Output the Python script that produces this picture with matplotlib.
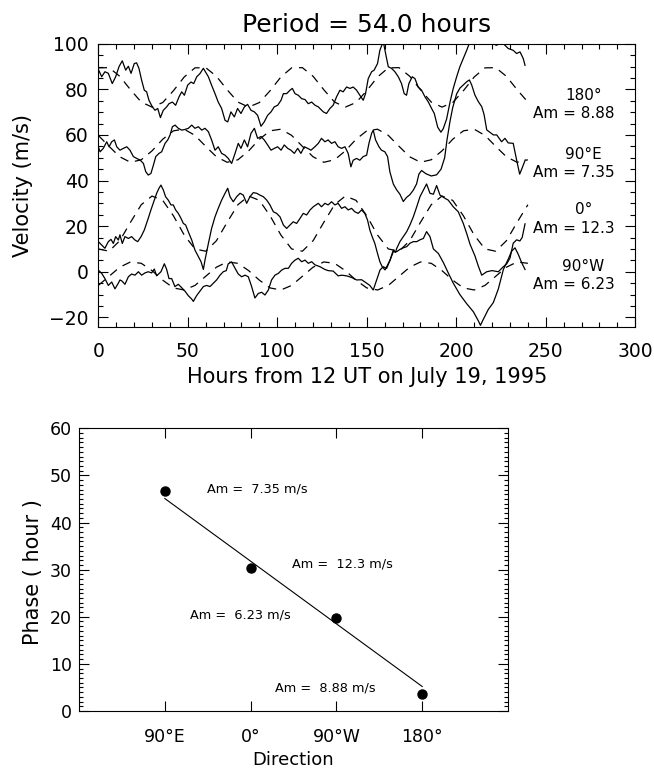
import matplotlib.pyplot as plt
from matplotlib.ticker import MultipleLocator

# ---------------------------------------------------------------
# top panel: wind velocity (m/s) against hours from 12 UT, 19 July 1995
# solid = observed, dashed = 54 h fitted wave, pairs are (hour, m/s)
# ---------------------------------------------------------------
obs_180 = [(0, 88.8), (1.9, 85.5), (3.7, 87.7), (5.6, 87.0), (7.8, 82.5), (9.7, 85.5),
           (11.6, 90.0), (13.4, 92.5), (15.3, 88.4), (16.8, 90.1), (18.3, 87.0), (20.1, 91.3),
           (21.4, 91.6), (22.7, 89.2), (24.2, 84.0), (25.7, 79.6), (27.0, 78.9), (28.3, 75.2),
           (30.2, 72.3), (31.7, 70.8), (33.2, 71.6), (34.7, 67.6), (36.3, 70.8), (38.2, 72.3),
           (39.5, 73.7), (41.4, 74.4), (43.2, 73.0), (45.1, 76.7), (46.6, 78.9), (48.1, 77.4),
           (49.9, 81.8), (51.8, 83.2), (53.3, 82.5), (55.0, 85.5), (56.8, 86.9), (58.7, 89.2),
           (61.5, 85.5), (63.3, 81.8), (65.2, 78.1), (67.0, 74.4), (68.9, 71.6), (70.8, 66.4),
           (72.3, 65.7), (74.1, 70.1), (76.0, 67.9), (77.8, 71.6), (79.7, 69.4), (81.6, 72.3),
           (83.4, 73.4), (85.3, 70.8), (87.2, 70.1), (89.0, 68.6), (90.9, 63.8), (92.7, 65.7),
           (94.6, 68.6), (96.5, 70.1), (98.3, 72.3), (100.2, 73.0), (102.1, 75.2), (103.4, 78.1),
           (105.2, 78.1), (107.1, 79.6), (108.4, 80.4), (109.9, 78.1), (111.7, 77.4), (113.6, 75.9),
           (115.5, 75.5), (117.3, 73.7), (119.2, 74.4), (121.1, 73.0), (122.9, 72.3), (125.7, 70.1),
           (127.5, 69.4), (129.4, 71.6), (131.2, 73.0), (133.1, 76.7), (135.0, 79.6), (136.8, 78.9),
           (138.7, 81.0), (140.6, 80.4), (142.4, 81.0), (144.3, 79.6), (146.1, 77.4), (148.0, 75.2),
           (149.3, 78.1), (150.8, 84.7), (152.7, 87.7), (154.1, 88.4), (156.0, 91.3), (157.3, 97.1),
           (159.2, 101.0), (160.5, 95.7), (162.0, 89.9), (163.8, 89.2), (165.7, 87.7), (167.6, 85.5),
           (169.4, 82.5), (170.9, 78.1), (172.2, 77.4), (173.5, 82.5), (175.4, 85.5), (176.9, 84.7),
           (178.7, 81.0), (180.6, 79.6), (182.5, 76.7), (184.4, 74.4), (186.2, 71.6), (187.7, 69.4),
           (189.6, 63.4), (191.4, 61.2), (192.7, 62.7), (194.6, 67.0), (196.5, 74.4), (198.3, 80.4),
           (200.2, 85.5), (202.0, 89.9), (203.9, 93.5), (205.8, 97.1), (207.6, 100.8), (210.0, 103.0),
           (214.0, 104.0), (217.0, 103.0), (219.7, 100.2), (222.5, 99.3), (225.3, 100.8), (229.0, 97.9),
           (231.8, 97.1), (233.7, 95.7), (235.6, 96.4), (237.4, 93.5), (238.4, 90.5)]

obs_90e = [(0, 54.8), (1.0, 52.6), (2.8, 54.1), (4.7, 57.0), (6.0, 54.8), (7.5, 57.0),
           (9.0, 57.8), (10.3, 54.8), (12.1, 53.3), (14.0, 54.1), (15.9, 54.8), (17.7, 53.3),
           (19.6, 50.5), (21.4, 49.7), (23.3, 49.0), (25.2, 47.5), (26.5, 43.9), (27.9, 42.4),
           (29.4, 43.1), (30.8, 46.8), (32.1, 50.5), (33.9, 51.9), (35.4, 52.6), (37.3, 56.3),
           (38.8, 57.8), (40.1, 60.0), (41.4, 63.6), (42.9, 64.3), (44.7, 62.9), (46.6, 62.1),
           (48.4, 62.4), (50.3, 62.9), (52.2, 64.3), (54.0, 62.9), (55.9, 63.6), (57.8, 62.1),
           (59.6, 62.9), (61.5, 61.4), (63.3, 57.8), (65.2, 53.3), (67.0, 54.8), (68.9, 51.9),
           (70.8, 51.1), (72.6, 49.7), (74.5, 47.5), (76.4, 51.9), (78.2, 56.3), (79.7, 54.1),
           (81.6, 57.8), (83.4, 54.8), (85.3, 60.7), (87.2, 62.9), (89.0, 58.5), (90.9, 59.3),
           (92.7, 57.8), (94.6, 55.6), (96.5, 53.3), (98.3, 54.1), (100.2, 54.8), (102.1, 53.3),
           (103.9, 55.6), (105.8, 54.1), (107.6, 53.3), (109.5, 51.9), (111.4, 54.1), (113.2, 51.9),
           (115.1, 54.8), (117.0, 54.1), (118.8, 53.3), (121.0, 54.8), (122.9, 56.3), (124.7, 58.5),
           (126.6, 57.0), (128.4, 57.8), (130.3, 56.3), (132.2, 57.0), (134.0, 54.8), (135.9, 54.1),
           (137.8, 54.8), (139.6, 51.9), (141.1, 46.0), (142.4, 48.9), (144.3, 49.7), (146.1, 48.9),
           (148.0, 50.5), (149.9, 51.1), (151.2, 56.3), (152.7, 60.7), (153.6, 62.1), (154.9, 57.8),
           (156.8, 54.8), (158.2, 53.3), (160.1, 52.6), (161.6, 50.5), (162.9, 43.8), (164.8, 38.5),
           (166.6, 36.0), (168.5, 34.0), (170.4, 30.8), (172.2, 32.6), (174.1, 33.8), (176.0, 35.8),
           (177.8, 38.5), (179.1, 42.8), (180.6, 44.4), (183.0, 43.0), (186.0, 42.0), (189.0, 42.5),
           (191.5, 45.0), (193.5, 50.0), (194.8, 57.8), (196.5, 66.0), (198.0, 72.0), (200.2, 78.0),
           (202.0, 80.5), (203.9, 81.9), (205.8, 83.3), (207.3, 84.1), (208.6, 81.9), (210.4, 77.5),
           (212.3, 74.6), (214.2, 72.4), (215.5, 69.0), (217.0, 62.2), (219.0, 61.0), (220.7, 60.0),
           (222.6, 60.0), (225.3, 57.0), (227.2, 58.5), (229.0, 56.5), (231.8, 56.3), (233.7, 49.0),
           (235.4, 42.8), (236.8, 45.5), (238.5, 49.0)]

obs_0 = [(0, 13.2), (1.9, 11.7), (3.7, 10.3), (5.6, 13.2), (7.1, 14.2), (8.4, 12.4),
         (9.7, 15.4), (11.2, 13.9), (12.1, 16.2), (13.4, 12.4), (14.9, 15.4), (16.8, 14.6),
         (18.6, 15.4), (20.5, 13.9), (22.0, 13.2), (23.9, 15.4), (25.7, 18.3), (27.6, 22.7),
         (29.4, 27.1), (31.3, 31.4), (32.6, 34.4), (33.9, 36.6), (35.0, 38.0), (36.3, 35.9),
         (37.6, 32.9), (39.1, 31.4), (40.6, 29.3), (41.9, 29.3), (43.2, 27.1), (44.7, 25.6),
         (46.2, 23.4), (47.5, 21.2), (48.8, 20.5), (50.3, 17.5), (52.2, 13.9), (54.0, 9.5),
         (55.9, 6.6), (57.4, 4.4), (58.7, 1.0), (59.6, 5.1), (61.5, 12.4), (63.3, 19.0),
         (65.2, 24.1), (67.0, 27.8), (68.9, 31.4), (70.8, 34.4), (72.3, 36.6), (73.6, 32.9),
         (75.4, 30.7), (77.3, 32.9), (79.2, 34.4), (81.0, 33.6), (82.9, 30.0), (84.7, 32.9),
         (86.6, 34.7), (88.5, 34.4), (90.3, 33.6), (92.2, 32.9), (94.1, 31.4), (95.9, 29.3),
         (97.8, 26.3), (99.6, 25.6), (101.5, 24.1), (103.4, 20.5), (105.2, 19.0), (107.1, 20.5),
         (108.9, 21.9), (110.8, 21.2), (112.7, 23.4), (114.5, 25.6), (116.4, 24.9), (118.3, 27.1),
         (120.1, 28.5), (122.9, 30.0), (124.7, 28.5), (126.6, 30.0), (128.4, 29.3), (130.3, 30.7),
         (132.2, 29.3), (134.0, 30.0), (135.9, 27.8), (137.8, 28.5), (139.6, 27.1), (141.5, 27.8),
         (143.3, 26.3), (145.2, 25.6), (147.1, 27.1), (148.9, 25.6), (150.4, 22.7), (151.7, 18.3),
         (153.0, 15.4), (154.5, 12.4), (156.0, 8.0), (157.3, 4.4), (158.6, 2.2), (160.2, 0.8),
         (161.1, 2.2), (163.0, 5.1), (164.8, 9.5), (166.0, 8.5), (166.7, 10.2), (168.5, 13.2),
         (170.4, 15.4), (172.3, 17.6), (174.1, 20.5), (176.0, 24.1), (177.9, 28.5), (179.7, 32.9),
         (181.6, 35.8), (183.4, 38.5), (185.3, 34.4), (187.2, 34.0), (189.0, 37.8), (190.9, 33.6),
         (193.7, 32.2), (195.5, 31.4), (198.3, 28.5), (201.1, 26.3), (203.9, 21.2), (205.8, 16.8),
         (207.7, 12.0), (210.4, 7.0), (212.3, 2.5), (214.2, -1.5), (217.0, 0.0), (220.0, 0.5),
         (223.5, 0.0), (226.0, 2.0), (228.2, 3.5), (230.0, 6.0), (231.8, 12.5), (233.7, 14.0),
         (235.5, 13.5), (236.8, 15.0), (238.4, 21.0)]

obs_90w = [(0, 0.7), (1.9, -0.7), (3.7, -3.0), (5.6, -6.0), (7.5, -4.5), (9.3, -7.5),
           (11.2, -5.0), (12.1, -3.6), (13.1, -4.0), (14.9, -5.5), (16.8, -2.2), (18.6, -1.0),
           (20.5, -1.5), (22.4, 0.0), (24.2, -1.5), (26.1, -0.5), (27.9, 0.0), (29.8, -0.5),
           (31.3, 1.2), (32.6, -1.8), (35.0, 0.0), (36.9, 3.5), (38.2, 1.0), (39.5, -3.0),
           (41.0, -3.0), (42.8, -6.5), (44.7, -5.5), (46.6, -7.0), (48.4, -8.5), (50.3, -10.5),
           (52.2, -12.0), (53.1, -13.0), (54.9, -10.5), (56.8, -8.5), (58.7, -6.5), (60.5, -6.0),
           (62.4, -6.5), (64.3, -5.0), (66.1, -3.6), (68.0, -1.5), (69.8, 0.0), (71.5, 0.5),
           (72.6, 3.5), (74.5, 4.3), (76.4, 1.5), (78.2, -1.0), (80.1, -2.2), (82.0, -1.5),
           (83.8, -2.2), (85.7, -6.6), (87.5, -11.5), (89.4, -9.5), (91.3, -9.0), (93.1, -10.2),
           (95.0, -8.0), (96.8, -3.6), (98.7, -1.5), (100.6, -0.7), (102.4, 0.7), (104.3, 1.5),
           (106.2, 1.5), (108.0, 3.7), (109.9, 5.1), (111.7, 5.9), (113.6, 4.4), (115.5, 5.1),
           (117.3, 3.7), (119.2, 4.4), (121.1, 3.0), (123.9, 2.2), (126.6, 1.0), (128.4, 0.5),
           (131.2, 0.3), (134.0, -1.8), (135.9, -1.5), (138.7, -1.8), (141.5, -2.5), (144.3, -3.6),
           (147.1, -3.5), (149.9, -5.0), (151.7, -6.0), (153.6, -8.0), (155.5, -3.6), (157.4, 0.8),
           (159.2, 2.2), (161.1, 1.5), (163.0, 5.1), (164.8, 8.8), (166.7, 8.8), (168.5, 9.8),
           (170.4, 10.5), (172.3, 11.0), (174.1, 12.5), (176.0, 13.2), (177.9, 13.2), (179.7, 14.0),
           (181.6, 14.6), (183.4, 17.6), (185.3, 15.4), (187.2, 10.0), (190.0, 8.0), (192.8, 4.0),
           (195.5, -0.5), (198.3, -5.0), (202.0, -10.0), (205.8, -14.0), (209.5, -17.5), (212.3, -21.5),
           (213.5, -23.5), (215.0, -21.0), (217.9, -16.5), (220.7, -13.5), (223.5, -7.5), (226.3, 1.0),
           (229.0, 5.5), (230.9, 9.0), (232.8, 10.5), (234.7, 7.5), (236.5, 4.0), (238.4, 1.0)]

# fitted 54 h wave, read every 6 hours
fit_hours = list(range(0, 241, 6))
fit_180 = [89.4, 89.5, 85.7, 79.8, 74.4, 72.2, 74.2, 79.4, 85.4,
           89.4, 89.5, 85.7, 79.8, 74.4, 72.2, 74.2, 79.4, 85.4,
           89.4, 89.5, 85.7, 79.8, 74.4, 72.2, 74.2, 79.4, 85.4,
           89.4, 89.5, 85.7, 79.8, 74.4, 72.2, 74.2, 79.4, 85.4,
           89.4, 89.5, 85.7, 79.8, 74.4]
fit_90e = [59.8, 55.0, 50.4, 48.0, 49.1, 53.0, 58.1, 61.8, 62.5,
           59.8, 55.0, 50.4, 48.0, 49.1, 53.0, 58.1, 61.8, 62.5,
           59.8, 55.0, 50.4, 48.0, 49.1, 53.0, 58.1, 61.8, 62.5,
           59.8, 55.0, 50.4, 48.0, 49.1, 53.0, 58.1, 61.8, 62.5,
           59.8, 55.0, 50.4, 48.0, 49.1]
fit_0 = [10.0, 9.0, 13.6, 21.7, 29.4, 33.2, 31.3, 24.5, 16.1,
         10.0, 9.0, 13.6, 21.7, 29.4, 33.2, 31.3, 24.5, 16.1,
         10.0, 9.0, 13.6, 21.7, 29.4, 33.2, 31.3, 24.5, 16.1,
         10.0, 9.0, 13.6, 21.7, 29.4, 33.2, 31.3, 24.5, 16.1,
         10.0, 9.0, 13.6, 21.7, 29.4]
fit_90w = [-6.0, -2.0, 2.0, 4.3, 3.7, 0.5, -3.7, -7.1, -8.0,
           -6.0, -2.0, 2.0, 4.3, 3.7, 0.5, -3.7, -7.1, -8.0,
           -6.0, -2.0, 2.0, 4.3, 3.7, 0.5, -3.7, -7.1, -8.0,
           -6.0, -2.0, 2.0, 4.3, 3.7, 0.5, -3.7, -7.1, -8.0,
           -6.0, -2.0, 2.0, 4.3, 3.7]

top_names = ['180°', '90°E', '0°', '90°W']
top_amps = ['8.88', '7.35', '12.3', '6.23']

# ---------------------------------------------------------------
# bottom panel: phase of the wave per direction
# ---------------------------------------------------------------
directions = ['90°E', '0°', '90°W', '180°']
phase = [46.8, 30.3, 19.7, 3.6]
amplitude = ['7.35', '12.3', '6.23', '8.88']
line_phase = [45.1, 5.2]   # straight line fit, at 90°E and 180°


fig = plt.figure(figsize=(6.54, 7.72), dpi=100)

# ---- top panel ----
ax1 = fig.add_axes([0.1503, 0.5768, 0.8211, 0.3666])

for series in [obs_180, obs_90e, obs_0, obs_90w]:
    hours = [p[0] for p in series]
    vel = [p[1] for p in series]
    ax1.plot(hours, vel, color='black', lw=0.9)

for wave in [fit_180, fit_90e, fit_0, fit_90w]:
    ax1.plot(fit_hours, wave, color='black', lw=0.9, dashes=(7, 5.5))

# labels on the right side of the plot
name_y = [77.5, 51.2, 27.5, 2.5]
amp_y = [69.6, 43.7, 19.1, -5.4]
for name, am, y1, y2 in zip(top_names, top_amps, name_y, amp_y):
    ax1.text(271.0, y1, name, fontsize=11, ha='center', va='center')
    ax1.text(265.8, y2, f'Am = {am}', fontsize=11, ha='center', va='center')

ax1.set_xlim(0, 300)
ax1.set_ylim(-24.1, 100)
ax1.xaxis.set_major_locator(MultipleLocator(50))
ax1.xaxis.set_minor_locator(MultipleLocator(10))
ax1.yaxis.set_major_locator(MultipleLocator(20))
ax1.yaxis.set_minor_locator(MultipleLocator(5))
ax1.tick_params(which='both', direction='in', top=True, right=True, labelsize=13.5, width=0.8)
ax1.tick_params(which='major', length=7)
ax1.tick_params(which='minor', length=3.5)
ax1.tick_params(axis='x', pad=11)
ax1.tick_params(axis='y', pad=7)

ax1.set_xlabel('Hours from 12 UT on July 19, 1995', fontsize=15, va='center')
ax1.xaxis.set_label_coords(0.5, -0.177)
ax1.set_ylabel('Velocity (m/s)', fontsize=15, va='center')
ax1.yaxis.set_label_coords(-0.141, 0.5)
ax1.set_title('Period = 54.0 hours', fontsize=18, pad=8.4)

# ---- bottom panel ----
ax2 = fig.add_axes([0.1208, 0.0790, 0.6560, 0.3662])

xpos = [1, 2, 3, 4]
ax2.plot(xpos, phase, 'o', color='black', ms=6.5)
ax2.plot([xpos[0], xpos[-1]], line_phase, color='black', lw=0.8)

text_pos = [(1.49, 47.2), (2.48, 31.2), (1.29, 20.4), (2.28, 4.9)]
for (tx, ty), am in zip(text_pos, amplitude):
    ax2.text(tx, ty, f'Am =  {am} m/s', fontsize=9.3, ha='left', va='center')

ax2.set_xlim(0, 5)
ax2.set_ylim(0, 60)
ax2.set_xticks(xpos)
ax2.set_xticklabels(directions)
ax2.yaxis.set_major_locator(MultipleLocator(10))
ax2.yaxis.set_minor_locator(MultipleLocator(1))
ax2.tick_params(which='both', direction='in', top=True, right=True, labelsize=12.5, width=0.8)
ax2.tick_params(which='major', length=7)
ax2.tick_params(which='minor', length=3)
ax2.tick_params(axis='x', pad=12.5)
ax2.tick_params(axis='y', pad=5.3)

ax2.set_xlabel('Direction', fontsize=13, va='center')
ax2.xaxis.set_label_coords(0.5, -0.173)
ax2.set_ylabel('Phase ( hour )', fontsize=15, va='center')
ax2.yaxis.set_label_coords(-0.107, 0.49)

plt.savefig('out.png', dpi=100)
